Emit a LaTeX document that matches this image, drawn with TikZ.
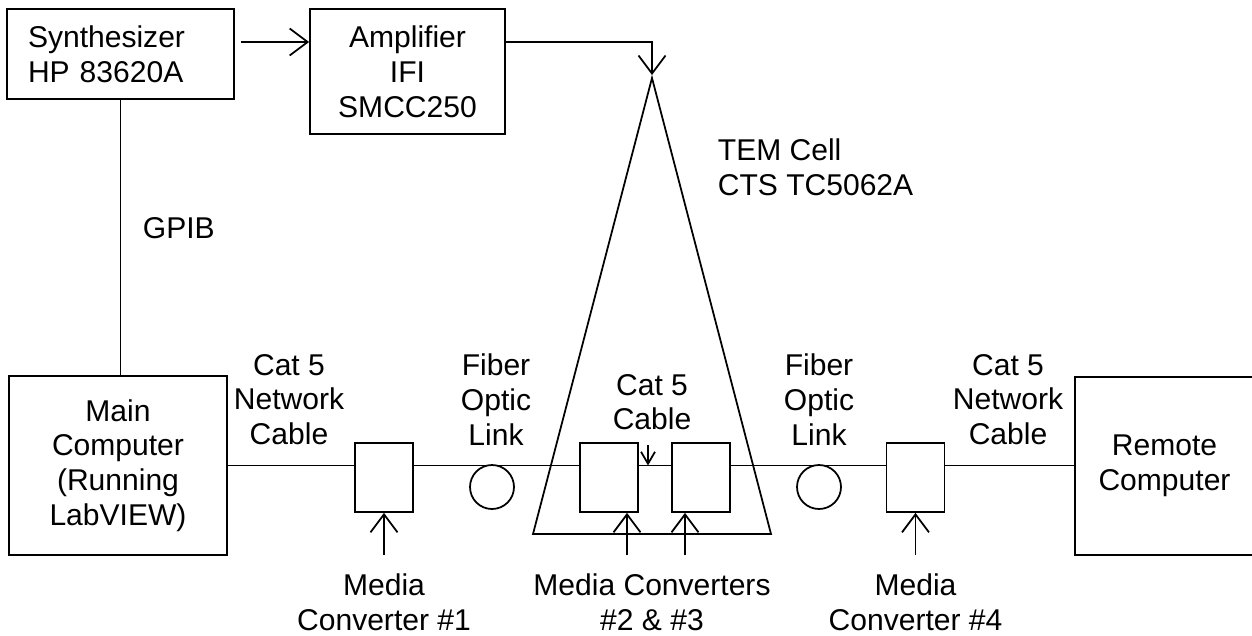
\documentclass[tikz,border=0pt]{standalone}
\usepackage{fontspec}
\setmainfont{Liberation Sans}
\usetikzlibrary{arrows.meta}

\begin{document}
\begin{tikzpicture}[line width=1pt,font=\fontsize{17.1}{19.8}\selectfont,
  box/.style={draw,align=center,inner sep=0pt},
  conv/.style={draw,minimum width=1.16cm,minimum height=1.38cm,inner sep=0pt},
  note/.style={align=center,inner sep=0pt},
  arr/.style={-{Straight Barb[length=0.36cm,width=0.54cm]}},
  arrs/.style={-{Straight Barb[length=0.24cm,width=0.28cm]}}]
\useasboundingbox (0,0) rectangle (25.04,-12.7);
\node[box,minimum width=4.54cm,minimum height=1.8cm,text width=3.7cm,align=left] (synth) at (2.41,-1.08) {Synthesizer\\HP 83620A};
\node[box,minimum width=3.9cm,minimum height=2.5cm] (amp) at (8.15,-1.43) {Amplifier\\IFI\\SMCC250};
\node[box,minimum width=4.36cm,minimum height=3.58cm] (main) at (2.36,-9.31) {Main\\Computer\\(Running\\LabVIEW)};
\node[box,minimum width=3.58cm,minimum height=3.56cm] (remote) at (23.29,-9.32) {Remote\\Computer};
\node[conv] (mc1) at (7.68,-9.55) {};
\node[conv] (mc2) at (12.18,-9.55) {};
\node[conv] (mc3) at (14.02,-9.55) {};
\node[conv] (mc4) at (18.31,-9.55) {};
\node[draw,circle,minimum size=0.88cm,inner sep=0pt] (fib1) at (9.84,-9.74) {};
\node[draw,circle,minimum size=0.88cm,inner sep=0pt] (fib2) at (16.38,-9.74) {};
% TEM cell
\coordinate (apex) at (13.04,-1.56);
\coordinate (baseL) at (10.66,-10.68);
\coordinate (baseR) at (15.42,-10.68);
\draw (apex) -- (baseL) -- (baseR) -- cycle;
% labels
\node[note,anchor=west,align=left] (tem) at (14.34,-3.35) {TEM Cell\\CTS TC5062A};
\node[note,anchor=west] (gpib) at (2.84,-4.56) {GPIB};
\node[note] (cat5l) at (5.78,-7.99) {Cat 5\\Network\\Cable};
\node[note] (fol) at (9.92,-7.99) {Fiber\\Optic\\Link};
\node[note] (for) at (16.38,-7.99) {Fiber\\Optic\\Link};
\node[note] (cat5r) at (20.16,-7.99) {Cat 5\\Network\\Cable};
\node[note,anchor=south,inner ysep=0.28cm] (cab) at (13.04,-8.9) {Cat 5\\Cable};
\node[note,anchor=north,inner ysep=0.36cm] (lmc1) at (7.68,-11.1) {Media\\Converter \#1};
\node[note,anchor=north,inner ysep=0.36cm] (lmc23) at (13.04,-11.1) {Media Converters\\\#2 \& \#3};
\node[note,anchor=north,inner ysep=0.36cm] (lmc4) at (18.31,-11.1) {Media\\Converter \#4};
% connections
\draw (synth.south) -- (synth.south |- main.north);
\draw[arr] ([xshift=0.12cm,yshift=0.24cm]synth.east) -- ([yshift=0.24cm]synth.east -| amp.west);
\draw[arr] ([yshift=0.59cm]amp.east) -| ([yshift=0.06cm]apex);
\draw (main.east) -- (main.east -| mc1.west);
\draw (mc1.east |- main.east) -- (main.east -| mc2.west);
\draw (mc2.east |- main.east) -- (main.east -| mc3.west);
\draw (mc3.east |- main.east) -- (main.east -| mc4.west);
\draw (mc4.east |- main.east) -- (remote.west |- main.east);
\draw[arrs] ([xshift=-0.08cm]cab.south) -- ([xshift=-0.08cm]cab.south |- main.east);
\draw[arr] (lmc1.north) -- (mc1.south);
\draw[arr] ([xshift=-0.5cm]lmc23.north) -- ([xshift=-0.5cm]lmc23.north |- mc2.south);
\draw[arr] ([xshift=0.66cm]lmc23.north) -- ([xshift=0.66cm]lmc23.north |- mc3.south);
\draw[arr] (lmc4.north) -- (mc4.south);
\end{tikzpicture}
\end{document}
